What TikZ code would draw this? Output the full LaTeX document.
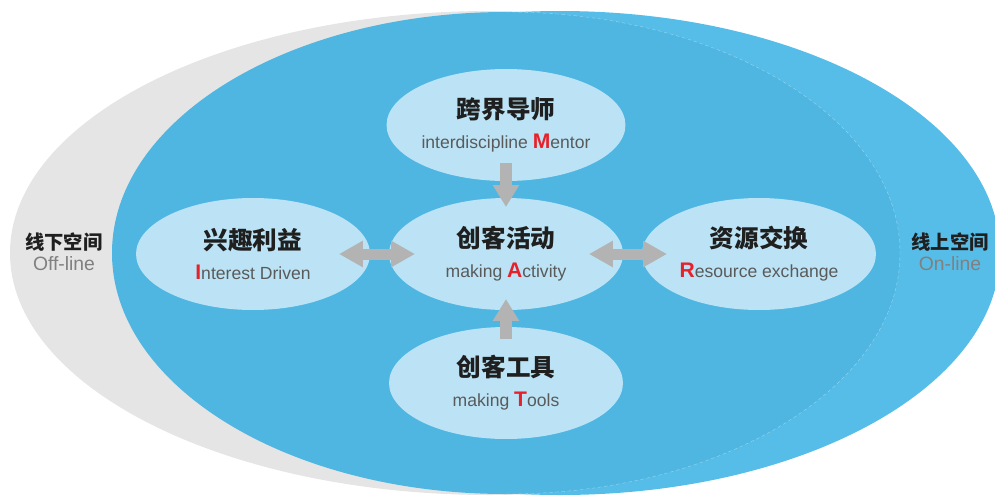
\documentclass[tikz,border=0pt]{standalone}
\usepackage{fontspec}
\setmainfont{Liberation Sans}
\newfontfamily\cjk{Noto Sans CJK SC}
\usetikzlibrary{arrows.meta, shapes.geometric}

\definecolor{offgray}{HTML}{E5E5E5}
\definecolor{onblue}{HTML}{56BDE8}
\definecolor{mainblue}{HTML}{4FB6E2}
\definecolor{innerblue}{HTML}{BBE3F5}
\definecolor{arrowgray}{HTML}{B3B3B3}
\definecolor{keyred}{HTML}{E6212A}
\definecolor{subgray}{HTML}{5A5A5A}
\definecolor{lblgray}{HTML}{808080}

\newcommand\redkey[1]{{\color{keyred}\fontsize{12}{17}\selectfont\bfseries #1}}
\newcommand\cntitle[1]{{\cjk\bfseries\color{black!88}\fontsize{14}{17}\selectfont #1}}

\begin{document}
\begin{tikzpicture}[
  x = 0.02cm, y = -0.02cm,
  topic/.style={ellipse, fill=innerblue, minimum width=4.68cm, minimum height=2.24cm, inner sep=0pt, align=center, text=subgray, font=\fontsize{10}{17}\selectfont},
  space/.style={align=center, text=lblgray, font=\fontsize{11}{12}\selectfont},
  flow/.style={draw=arrowgray, line width=0.24cm, -{Triangle[width=0.5cm, length=0.44cm]}},
  both/.style={draw=arrowgray, line width=0.22cm, {Triangle[width=0.5cm, length=0.48cm]}-{Triangle[width=0.5cm, length=0.48cm]}},
  rim/.style={draw=white, opacity=0.45, very thin, dash pattern=on 2pt off 1.5pt}
]
%general params
\def\cx{506} %centre x
\def\cy{254} %centre y
\def\dx{253} %step x
\def\dy{129} %step y

\useasboundingbox (0,0) rectangle (995,495);
\clip (0,0) rectangle (995,495);

%spaces
\fill[offgray]  (490,253) ellipse [x radius=480, y radius=242];
\fill[onblue]   (560,253) ellipse [x radius=440, y radius=242];
\fill[mainblue] (506,253) ellipse [x radius=394, y radius=241];
\draw[rim] (506,12) arc [start angle=-90, end angle=90, x radius=394, y radius=241];

\node[space] (offline) at (64,252) {\cntitle{\fontsize{11}{12}\selectfont 线下空间}\\Off-line};
\node[space] (online)  at (950,252) {\cntitle{\fontsize{11}{12}\selectfont 线上空间}\\On-line};

%topics
\node[topic] (mentor)   at (\cx,\cy-\dy) {\cntitle{跨界导师}\\interdiscipline \redkey{M}entor};
\node[topic] (activity) at (\cx,\cy)     {\cntitle{创客活动}\\making \redkey{A}ctivity};
\node[topic] (interest) at (\cx-\dx,\cy) {\cntitle{兴趣利益}\\\redkey{I}nterest Driven};
\node[topic] (resource) at (\cx+\dx,\cy) {\cntitle{资源交换}\\\redkey{R}esource exchange};
\node[topic] (tools)    at (\cx,\cy+\dy) {\cntitle{创客工具}\\making \redkey{T}ools};

%arrows
\draw[flow, shorten <=0.76cm, shorten >=0.94cm] (mentor.center) -- (activity.center);
\draw[flow, shorten <=0.88cm, shorten >=0.9cm]  (tools.center) -- (activity.center);
\draw[both, shorten <=1.72cm, shorten >=1.82cm] (interest.center) -- (activity.center);
\draw[both, shorten <=1.66cm, shorten >=1.84cm] (activity.center) -- (resource.center);

\end{tikzpicture}
\end{document}
